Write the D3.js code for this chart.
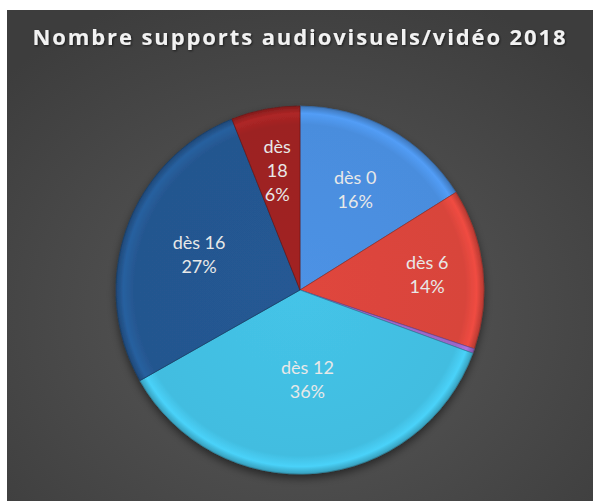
<!DOCTYPE html>
<html>
<head>
  <meta charset="utf-8">
  <title>Nombre supports audiovisuels/vidéo 2018</title>
  <script src="https://cdn.jsdelivr.net/npm/d3@7/dist/d3.min.js"></script>
  <style>
    body { margin:0; background:white; }
    svg { display:block; }
  </style>
</head>
<body>
  <div id="chart"></div>
  <script>
  // data (percent of supports)
  var categories = ["dès 0", "dès 6", "autre", "dès 12", "dès 16", "dès 18"];
  var values = [16, 14, 0.4, 36, 27, 6];
  var colors = ["#4a8ddd", "#d8443b", "#9a66c8", "#42bde0", "#24568f", "#9c2222"];
  var title = "Nombre supports audiovisuels/vidéo 2018";

  var w = 595, h = 501;
  var cx = 300, cy = 290, r = 184;

  var svg = d3.select('#chart').append('svg')
    .attr('width', w)
    .attr('height', h);

  var defs = svg.append('defs');
  var bg = defs.append('radialGradient').attr('id', 'bg')
    .attr('cx', '50%').attr('cy', '62%').attr('r', '70%');
  bg.append('stop').attr('offset', '0%').attr('stop-color', '#5a5a5a');
  bg.append('stop').attr('offset', '100%').attr('stop-color', '#3d3d3d');

  var shadow = defs.append('filter').attr('id', 'shadow')
    .attr('x', '-20%').attr('y', '-20%').attr('width', '140%').attr('height', '140%');
  shadow.append('feDropShadow').attr('dx', 0).attr('dy', 4).attr('stdDeviation', 4)
    .attr('flood-color', '#000').attr('flood-opacity', 0.5);

  var tshadow = defs.append('filter').attr('id', 'tshadow');
  tshadow.append('feDropShadow').attr('dx', 1).attr('dy', 1).attr('stdDeviation', 1)
    .attr('flood-color', '#000').attr('flood-opacity', 0.6);

  // sheen for each slice
  colors.forEach(function(c, i) {
    var g = defs.append('radialGradient').attr('id', 'sl' + i)
      .attr('gradientUnits', 'userSpaceOnUse')
      .attr('cx', cx).attr('cy', cy).attr('r', r);
    g.append('stop').attr('offset', '0%').attr('stop-color', d3.color(c).brighter(0.1).formatHex());
    g.append('stop').attr('offset', '90%').attr('stop-color', c);
    g.append('stop').attr('offset', '96%').attr('stop-color', d3.color(c).brighter(0.3).formatHex());
    g.append('stop').attr('offset', '100%').attr('stop-color', d3.color(c).darker(0.5).formatHex());
  });

  svg.append('rect')
    .attr('x', 7).attr('y', 10).attr('width', 586).attr('height', 491)
    .attr('fill', 'url(#bg)');

  svg.append('text')
    .attr('x', 300).attr('y', 45)
    .attr('text-anchor', 'middle')
    .attr('font-family', 'Open Sans, sans-serif')
    .attr('font-weight', 'bold')
    .attr('font-size', 22)
    .attr('letter-spacing', 1.9)
    .attr('fill', '#f2f2f2')
    .attr('filter', 'url(#tshadow)')
    .text(title);

  var data = categories.map(function(c, i) { return {name: c, value: values[i], i: i}; });
  var total = d3.sum(values);

  var pie = d3.pie().sort(null).value(function(d) { return d.value; });
  var arc = d3.arc().innerRadius(0).outerRadius(r);
  var arcs = pie(data);

  var g = svg.append('g').attr('transform', 'translate(' + cx + ',' + cy + ')');

  g.append('g').attr('filter', 'url(#shadow)')
    .selectAll('path')
    .data(arcs)
    .enter().append('path')
      .attr('d', arc)
      .attr('fill', function(d) { return 'url(#sl' + d.data.i + ')'; })
      .attr('stroke', function(d) { return d3.color(colors[d.data.i]).darker(1).formatHex(); })
      .attr('stroke-width', 0.7);

  // gradients are in page coordinates, so shift them with the group
  defs.selectAll('radialGradient').filter(function() { return this.id !== 'bg'; })
    .attr('gradientTransform', 'translate(' + (-cx) + ',' + (-cy) + ')');

  // label distance from centre, per slice (Excel "best fit")
  var labelR = {"dès 0": 114, "dès 6": 128, "dès 12": 90, "dès 16": 107, "dès 18": 121};

  arcs.forEach(function(d) {
    var name = d.data.name;
    if (!(name in labelR)) return;
    var a = (d.startAngle + d.endAngle) / 2;
    var lr = labelR[name];
    var x = Math.sin(a) * lr, y = -Math.cos(a) * lr;
    var pct = Math.round(d.data.value / total * 100) + '%';
    var lines = name === 'dès 18' ? ['dès', '18', pct] : [name, pct];
    var t = g.append('text')
      .attr('text-anchor', 'middle')
      .attr('font-family', 'Lato, sans-serif')
      .attr('font-size', 18)
      .attr('fill', '#e8e8e8');
    var lh = 24;
    var y0 = y - (lines.length - 1) * lh / 2 + 6;
    lines.forEach(function(l, k) {
      t.append('tspan').attr('x', x).attr('y', y0 + k * lh).text(l);
    });
  });
  </script>
</body>
</html>
